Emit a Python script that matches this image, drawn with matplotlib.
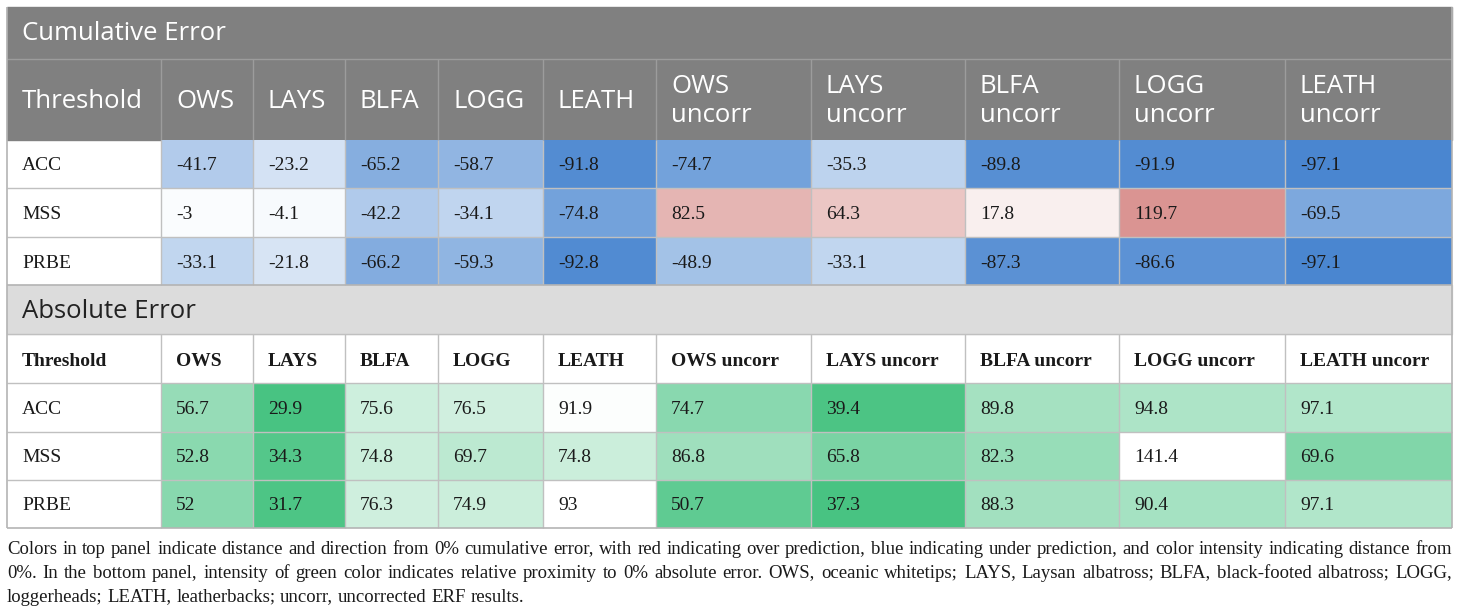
import numpy as np
import matplotlib
matplotlib.use("Agg")
import matplotlib.pyplot as plt
from matplotlib.colors import LinearSegmentedColormap, TwoSlopeNorm, Normalize

# ---- data ----
species = ["OWS", "LAYS", "BLFA", "LOGG", "LEATH"]
col_labels = species + [s + " uncorr" for s in species]
thresholds = ["ACC", "MSS", "PRBE"]

cum_error = np.array([
    [-41.7, -23.2, -65.2, -58.7, -91.8, -74.7, -35.3, -89.8, -91.9, -97.1],
    [-3, -4.1, -42.2, -34.1, -74.8, 82.5, 64.3, 17.8, 119.7, -69.5],
    [-33.1, -21.8, -66.2, -59.3, -92.8, -48.9, -33.1, -87.3, -86.6, -97.1],
])
abs_error = np.array([
    [56.7, 29.9, 75.6, 76.5, 91.9, 74.7, 39.4, 89.8, 94.8, 97.1],
    [52.8, 34.3, 74.8, 69.7, 74.8, 86.8, 65.8, 82.3, 141.4, 69.6],
    [52, 31.7, 76.3, 74.9, 93, 50.7, 37.3, 88.3, 90.4, 97.1],
])

caption_lines = [
    "Colors in top panel indicate distance and direction from 0% cumulative error, with red indicating over prediction, "
    "blue indicating under prediction, and color intensity indicating distance from",
    "0%. In the bottom panel, intensity of green color indicates relative proximity to 0% absolute error. "
    "OWS, oceanic whitetips; LAYS, Laysan albatross; BLFA, black-footed albatross; LOGG,",
    "loggerheads; LEATH, leatherbacks; uncorr, uncorrected ERF results.",
]

# ---- layout (pixels) ----
W, H = 1460, 615
col_x = np.array([7, 161, 253, 345, 438, 543, 656, 811, 965, 1119, 1285, 1452])
top_rows = np.array([140, 188, 237, 285])
bot_rows = np.array([383, 432, 480, 528])
pad = 15
dy = 2  # serif text sits a little low in its cell

SANS = ["Open Sans", "DejaVu Sans"]
SERIF = ["Liberation Serif", "DejaVu Serif"]

blue = (74 / 255, 134 / 255, 208 / 255)
red = (218 / 255, 148 / 255, 146 / 255)
green = (72 / 255, 195 / 255, 130 / 255)
cmap_div = LinearSegmentedColormap.from_list("bwr_cum", [blue, "white", red])
cmap_green = LinearSegmentedColormap.from_list("green_abs", [green, "white"])

fig = plt.figure(figsize=(W / 100, H / 100), dpi=100)
ax = fig.add_axes([0, 0, 1, 1])
ax.set_xlim(0, W)
ax.set_ylim(H, 0)
ax.axis("off")

# ---- top panel: cumulative error ----
ax.add_patch(plt.Rectangle((col_x[0], 7), col_x[-1] - col_x[0], 133, color="#808080", zorder=0))
ax.text(col_x[0] + pad, 34, "Cumulative Error", family=SANS, size=18.5, color="white", va="center")
ax.hlines(59, col_x[0], col_x[-1], color="#9c9c9c", lw=1)
ax.vlines(col_x[1:-1], 59, 140, color="#9c9c9c", lw=1)
ax.text(col_x[0] + pad, 101, "Threshold", family=SANS, size=18.5, color="white", va="center")
for i, lab in enumerate(col_labels):
    ax.text(col_x[i + 1] + pad, 101, lab.replace(" ", "\n"), family=SANS, size=18.5,
            color="white", va="center", linespacing=1.25)

norm_cum = TwoSlopeNorm(vmin=cum_error.min(), vcenter=0, vmax=cum_error.max())
ax.pcolormesh(col_x[1:], top_rows, cum_error, cmap=cmap_div, norm=norm_cum, zorder=1)
for r, th in enumerate(thresholds):
    yc = (top_rows[r] + top_rows[r + 1]) / 2 + dy
    ax.text(col_x[0] + pad, yc, th, family=SERIF, size=14, color="#1a1a1a", va="center", zorder=3)
    for c, v in enumerate(cum_error[r]):
        ax.text(col_x[c + 1] + pad, yc, "{:g}".format(v), family=SERIF, size=14,
                color="#1a1a1a", va="center", zorder=3)
ax.hlines(top_rows[1:-1], col_x[0], col_x[-1], color="#c0c0c0", lw=1, zorder=2)
ax.vlines(col_x[1:-1], top_rows[0], top_rows[-1], color="#c0c0c0", lw=1, zorder=2)

# ---- bottom panel: absolute error ----
ax.add_patch(plt.Rectangle((col_x[0], 285), col_x[-1] - col_x[0], 49, color="#dcdcdc", zorder=0))
ax.text(col_x[0] + pad, 311, "Absolute Error", family=SANS, size=18.5, color="#222222", va="center")
ax.text(col_x[0] + pad, 359 + dy, "Threshold", family=SERIF, size=14, weight="bold", color="#1a1a1a", va="center")
for i, lab in enumerate(col_labels):
    ax.text(col_x[i + 1] + pad, 359 + dy, lab, family=SERIF, size=14, weight="bold",
            color="#1a1a1a", va="center")

# green intensity is relative within the corrected and the uncorrected groups
for g in (slice(0, 5), slice(5, 10)):
    vals = abs_error[:, g]
    norm_g = Normalize(vmin=vals.min(), vmax=vals.max())
    ax.pcolormesh(col_x[1:][g.start:g.stop + 1], bot_rows, vals, cmap=cmap_green, norm=norm_g, zorder=1)
for r, th in enumerate(thresholds):
    yc = (bot_rows[r] + bot_rows[r + 1]) / 2 + dy
    ax.text(col_x[0] + pad, yc, th, family=SERIF, size=14, color="#1a1a1a", va="center", zorder=3)
    for c, v in enumerate(abs_error[r]):
        ax.text(col_x[c + 1] + pad, yc, "{:g}".format(v), family=SERIF, size=14,
                color="#1a1a1a", va="center", zorder=3)
ax.hlines([334, 383, 432, 480], col_x[0], col_x[-1], color="#c0c0c0", lw=1, zorder=2)
ax.vlines(col_x[1:-1], 334, bot_rows[-1], color="#c0c0c0", lw=1, zorder=2)

# outer frame
ax.hlines([285, 528], col_x[0], col_x[-1], color="#b4b4b4", lw=1.2, zorder=2)
ax.vlines([col_x[0], col_x[-1]], 7, 528, color="#b4b4b4", lw=1.2, zorder=2)

# ---- caption, justified ----
renderer = fig.canvas.get_renderer()


def text_width(s, size):
    t = ax.text(0, 0, s, family=SERIF, size=size)
    w = t.get_window_extent(renderer).width
    t.remove()
    return w


target = col_x[-1] - col_x[0]
cap_size = 14.0
while text_width(caption_lines[0], cap_size) > target - 10 or text_width(caption_lines[1], cap_size) > target - 10:
    cap_size -= 0.25

cap_y = [549, 573, 597]
space_w = text_width("a b", cap_size) - text_width("ab", cap_size)
for li, line in enumerate(caption_lines):
    words = line.split(" ")
    widths = [text_width(w, cap_size) for w in words]
    if li < len(caption_lines) - 1:
        gap = (target - sum(widths)) / (len(words) - 1)
    else:
        gap = space_w
    x = col_x[0]
    for w, wd in zip(words, widths):
        ax.text(x, cap_y[li], w, family=SERIF, size=cap_size, color="#1a1a1a", va="center")
        x += wd + gap

fig.savefig("out.png", dpi=100)
